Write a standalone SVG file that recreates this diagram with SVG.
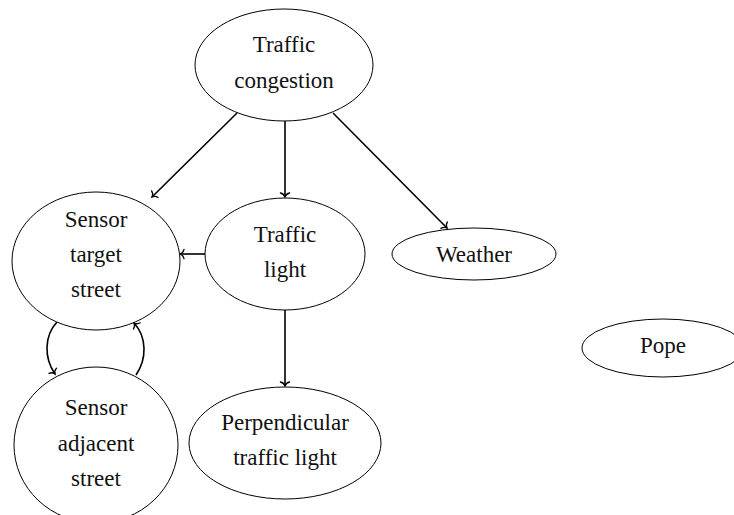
<svg xmlns="http://www.w3.org/2000/svg" width="734" height="515" viewBox="0 0 734 515">
  <style>
    .node ellipse { fill: #ffffff; stroke: #000000; stroke-width: 1; }
    .node text { font-family: "Liberation Serif", "DejaVu Serif", serif; font-size: 23px; fill: #111111; text-anchor: middle; }
    .edge { fill: none; stroke: #000000; stroke-width: 1.6; marker-end: url(#tip); }
  </style>
  <defs>
    <marker id="tip" markerUnits="userSpaceOnUse" viewBox="-6 -6 8 12" markerWidth="8" markerHeight="12" refX="0" refY="0" orient="auto">
      <path d="M -4,-4.6 C -3.4,-1.8 -1.2,-0.4 0,0 C -1.2,0.4 -3.4,1.8 -4,4.6" fill="none" stroke="#000000" stroke-width="1.3" stroke-linecap="round"/>
    </marker>
  </defs>

  <!-- connectors -->
  <g id="edges">
    <path class="edge" d="M 237,113 L 152,197"/>
    <path class="edge" d="M 285,121 L 285,197"/>
    <path class="edge" d="M 333,113 L 447,228"/>
    <path class="edge" d="M 205,254 L 180,254"/>
    <path class="edge" d="M 285,309 L 285,386"/>
    <path class="edge" d="M 57,322 C 44,336 44,358 55,374"/>
    <path class="edge" d="M 136,375 C 147,359 147,337 134,323"/>
  </g>

  <g id="traffic-congestion" class="node">
    <ellipse cx="284" cy="65" rx="89" ry="56"/>
    <text x="284" y="52">Traffic</text>
    <text x="284" y="88">congestion</text>
  </g>

  <g id="sensor-target-street" class="node">
    <ellipse cx="96" cy="261" rx="84" ry="69"/>
    <text x="96" y="227">Sensor</text>
    <text x="96" y="262">target</text>
    <text x="96" y="297">street</text>
  </g>

  <g id="traffic-light" class="node">
    <ellipse cx="285" cy="254" rx="80" ry="56"/>
    <text x="285" y="242">Traffic</text>
    <text x="285" y="277">light</text>
  </g>

  <g id="weather" class="node">
    <ellipse cx="474" cy="254" rx="82" ry="26"/>
    <text x="474" y="262">Weather</text>
  </g>

  <g id="pope" class="node">
    <ellipse cx="663" cy="348" rx="81" ry="29"/>
    <text x="663" y="353">Pope</text>
  </g>

  <g id="sensor-adjacent-street" class="node">
    <ellipse cx="96" cy="445" rx="82" ry="78"/>
    <text x="96" y="415">Sensor</text>
    <text x="96" y="451">adjacent</text>
    <text x="96" y="486">street</text>
  </g>

  <g id="perpendicular-traffic-light" class="node">
    <ellipse cx="285" cy="443" rx="96" ry="56"/>
    <text x="285" y="430">Perpendicular</text>
    <text x="285" y="465">traffic light</text>
  </g>
</svg>
